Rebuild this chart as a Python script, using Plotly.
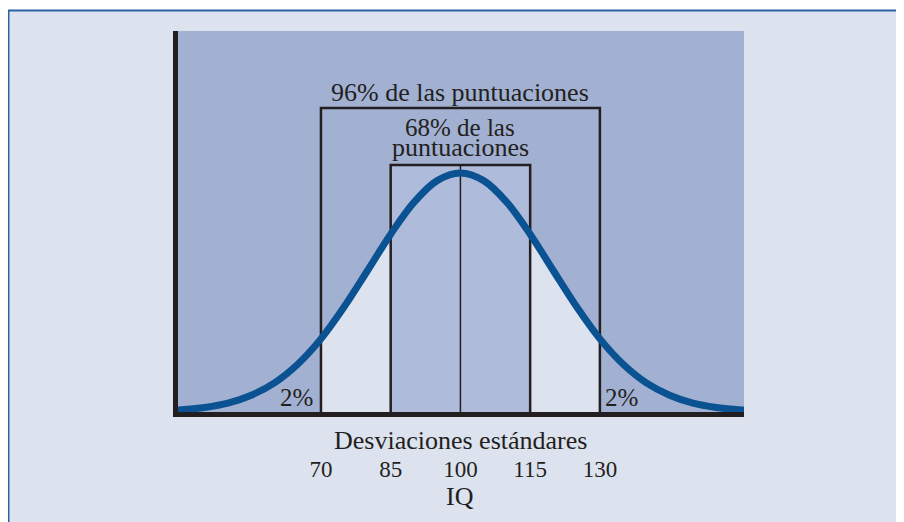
import plotly.graph_objects as go

# curve (relative height, peak = 1)
IQ = [35, 40, 45, 50, 55, 60, 65, 70, 75, 80, 85, 90, 95, 100,
      105, 110, 115, 120, 125, 130, 135, 140, 145, 150, 155, 160, 165]
HEIGHT = [0.006, 0.009, 0.019, 0.037, 0.070, 0.122, 0.200, 0.306, 0.440, 0.591, 0.744, 0.877, 0.968, 1.0,
          0.968, 0.877, 0.744, 0.591, 0.440, 0.306, 0.200, 0.122, 0.070, 0.037, 0.019, 0.009, 0.006]

# bands: (low, high, top of the box)
BAND_96 = (70, 130, 1.272)
BAND_68 = (85, 115, 1.033)
MEAN = 100

TICKS = [70, 85, 100, 115, 130]
TICK_TEXT = ['70', '85', '100', '115', '130']

LABEL_96 = '96% de las puntuaciones'
LABEL_68 = ['68% de las', 'puntuaciones']
TAIL_LABEL = '2%'
AXIS_LABEL = 'Desviaciones estándares'
UNIT_LABEL = 'IQ'

PAGE_BG = '#dce2ee'
PLOT_BG = '#a2b0d2'
BOX_BG = '#aebbdb'
CURVE = '#0a5292'
INK = '#231f20'
FONT = 'Liberation Serif'


def txt(size=26):
    return dict(family=FONT, size=size, color=INK)


fig = go.Figure()

# light area under the curve inside the 96% band
lo, hi, top96 = BAND_96
sub = [(x, h) for x, h in zip(IQ, HEIGHT) if lo <= x <= hi]
fig.add_trace(go.Scatter(
    x=[p[0] for p in sub], y=[p[1] for p in sub],
    mode='lines', line=dict(width=0, shape='spline'),
    fill='tozeroy', fillcolor=PAGE_BG, hoverinfo='skip',
))

# 68% box fill
lo68, hi68, top68 = BAND_68
fig.add_trace(go.Scatter(
    x=[lo68, lo68, hi68, hi68, lo68], y=[0, top68, top68, 0, 0],
    mode='lines', line=dict(width=0), fill='toself', fillcolor=BOX_BG, hoverinfo='skip',
))

# box outlines and mean line
fig.add_trace(go.Scatter(
    x=[lo, lo, hi, hi], y=[0, top96, top96, 0],
    mode='lines', line=dict(color=INK, width=2.5), hoverinfo='skip',
))
fig.add_trace(go.Scatter(
    x=[lo68, lo68, hi68, hi68], y=[0, top68, top68, 0],
    mode='lines', line=dict(color=INK, width=2.5), hoverinfo='skip',
))
fig.add_trace(go.Scatter(
    x=[MEAN, MEAN], y=[0, top68],
    mode='lines', line=dict(color=INK, width=1.5), hoverinfo='skip',
))

# the curve
fig.add_trace(go.Scatter(
    x=IQ, y=HEIGHT, mode='lines',
    line=dict(color=CURVE, width=7, shape='spline'), hoverinfo='skip',
))

# page frame and plot background
fig.add_shape(type='rect', xref='paper', yref='paper',
              x0=-0.2995, x1=1.5, y0=-0.6, y1=1.0538,
              fillcolor=PAGE_BG, line=dict(color='#2b63a2', width=2), layer='below')
fig.add_shape(type='rect', xref='paper', yref='paper',
              x0=0, x1=1, y0=0, y1=1,
              fillcolor=PLOT_BG, line=dict(width=0), layer='below')

fig.add_annotation(x=MEAN, y=1.335, text=LABEL_96, showarrow=False, font=txt())
fig.add_annotation(x=MEAN, y=1.192, text=LABEL_68[0], showarrow=False, font=txt(25))
fig.add_annotation(x=MEAN, y=1.105, text=LABEL_68[1], showarrow=False, font=txt())
fig.add_annotation(x=64.8, y=0.059, text=TAIL_LABEL, showarrow=False, font=txt(25))
fig.add_annotation(x=134.7, y=0.059, text=TAIL_LABEL, showarrow=False, font=txt(25))
fig.add_annotation(x=MEAN, y=-0.0761, yref='paper', yanchor='middle',
                   text=AXIS_LABEL, showarrow=False, font=txt())
fig.add_annotation(x=MEAN, y=-0.223, yref='paper', yanchor='middle',
                   text=UNIT_LABEL, showarrow=False, font=txt())

fig.update_xaxes(
    range=[39.25, 161], showgrid=False, zeroline=False,
    showline=True, linewidth=5, linecolor=INK,
    tickvals=TICKS, ticktext=TICK_TEXT, ticks='',
    ticklabelstandoff=32,
    tickfont=txt(23),
)
fig.update_yaxes(
    range=[0, 1.594], showgrid=False, zeroline=False,
    showline=True, linewidth=5, linecolor=INK, showticklabels=False, ticks='',
)

fig.update_layout(
    width=904, height=522,
    margin=dict(l=170, r=168, t=23, b=118),
    paper_bgcolor='white', plot_bgcolor='rgba(0,0,0,0)',
    font=dict(family=FONT, color=INK),
    showlegend=False,
)

fig.write_html('out.html')
